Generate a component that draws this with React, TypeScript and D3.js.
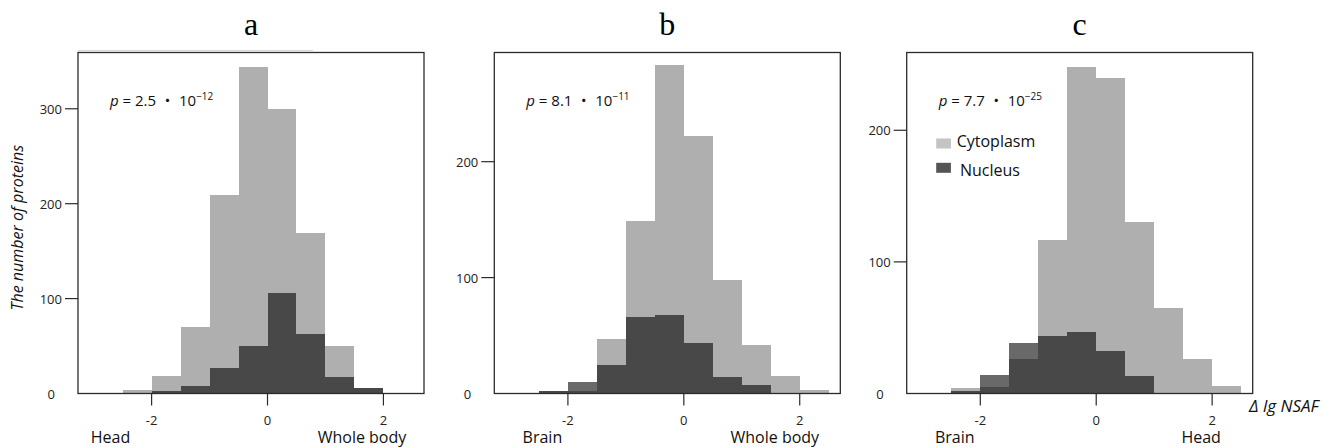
import React from 'react'
import * as d3 from 'd3'

// histogram bins (Δ lg NSAF)
const binEdges = [-2.5, -2, -1.5, -1, -0.5, 0, 0.5, 1, 1.5, 2, 2.5]

// panel a: head vs whole body
const cytoA = [4, 18, 70, 209, 344, 300, 169, 50, 6, 1]
const nucA = [0, 3, 8, 27, 50, 106, 63, 17, 6, 0]
// panel b: brain vs whole body
const cytoB = [2, 2, 47, 149, 283, 222, 98, 42, 15, 3]
const nucB = [2, 10, 25, 66, 68, 44, 14, 7, 0, 0]
// panel c: brain vs head
const cytoC = [4, 5, 26, 117, 248, 240, 130, 65, 26, 6]
const nucC = [2, 14, 38, 44, 47, 32, 13, 0, 0, 0]

const xTicks = [-2, 0, 2]
const yTicksA = [0, 100, 200, 300]
const yTicksB = [0, 100, 200]
const yTicksC = [0, 100, 200]

const titles = ['a', 'b', 'c']
const pMant = ['2.5', '8.1', '7.7']
const pExp = ['-12', '-11', '-25']
const leftLabels = ['Head', 'Brain', 'Brain']
const rightLabels = ['Whole body', 'Whole body', 'Head']
const leftLabelAt = [-2.71, -2.44, -2.44]
const rightLabelAt = [1.63, 1.57, 1.81]
const yMax = [359.3, 294.2, 259.1]

const legendNames = ['Cytoplasm', 'Nucleus']

const SANS = "'Open Sans', 'Noto Sans', sans-serif"
const FRAME = '#2b2b2b'
const LIGHT = '#afafaf'

const W = 346
const TOP = 52.5
const BOTTOM = 393.5

function Panel({ idx, left, cyto, nuc, yTicks, legend }) {
  const x = d3.scaleLinear().domain([-3.27, 2.7]).range([left, left + W])
  const y = d3.scaleLinear().domain([0, yMax[idx]]).range([BOTTOM, TOP])
  const bins = d3.range(binEdges.length - 1)

  return (
    <g>
      <text x={left + W / 2} y={35} textAnchor="middle"
        style={{ fontFamily: "'Liberation Serif', 'DejaVu Serif', serif", fontSize: 32 }}>
        {titles[idx]}
      </text>

      {bins.map(i => (
        <rect key={'c' + i} x={x(binEdges[i])} width={x(binEdges[i + 1]) - x(binEdges[i])}
          y={y(cyto[i])} height={y(0) - y(cyto[i])} fill={LIGHT} shapeRendering="crispEdges" />
      ))}
      {bins.filter(i => nuc[i] > 0).map(i => (
        <rect key={'n' + i} x={x(binEdges[i])} width={x(binEdges[i + 1]) - x(binEdges[i])}
          y={y(nuc[i])} height={y(0) - y(nuc[i])} fill="#000" fillOpacity={0.59}
          shapeRendering="crispEdges" />
      ))}

      <rect x={left} y={TOP} width={W} height={BOTTOM - TOP} fill="none"
        stroke={FRAME} strokeWidth={1.3} />

      {xTicks.map(t => (
        <g key={'xt' + t}>
          <line x1={x(t)} x2={x(t)} y1={BOTTOM} y2={BOTTOM + 12} stroke={FRAME} strokeWidth={1.2} />
          <text x={x(t)} y={424.5} textAnchor="middle" fill="#222"
            style={{ fontFamily: SANS, fontSize: 13 }}>{t}</text>
        </g>
      ))}

      {yTicks.map(t => (
        <g key={'yt' + t}>
          {t > 0 && <line x1={left - 13} x2={left} y1={y(t)} y2={y(t)} stroke={FRAME} strokeWidth={1.2} />}
          <text x={t > 0 ? left - 16 : left - 23} y={y(t) + 5} textAnchor="end" fill="#222"
            style={{ fontFamily: SANS, fontSize: 13 }}>{t}</text>
        </g>
      ))}

      <text x={x(leftLabelAt[idx])} y={443} textAnchor="middle" fill="#111"
        style={{ fontFamily: SANS, fontSize: 16 }}>{leftLabels[idx]}</text>
      <text x={x(rightLabelAt[idx])} y={443} textAnchor="middle" fill="#111"
        style={{ fontFamily: SANS, fontSize: 16 }}>{rightLabels[idx]}</text>

      <text x={left + 32} y={106} fill="#111" style={{ fontFamily: SANS, fontSize: 15 }}>
        <tspan fontStyle="italic">p</tspan>
        <tspan>{' = ' + pMant[idx] + ' '}</tspan>
        <tspan style={{ fontFamily: "'Noto Sans CJK JP', sans-serif" }}>・</tspan>
        <tspan>{' 10'}</tspan>
        <tspan fontSize={10} dy={-6}>{'\u2212' + pExp[idx].slice(1)}</tspan>
      </text>

      {legend && (
        <g>
          <rect x={left + 29.5} y={TOP + 86} width={14.7} height={10} fill="#c4c4c4" />
          <rect x={left + 29.5} y={TOP + 110.3} width={14.7} height={10} fill="#555" />
          <text x={left + 50} y={TOP + 94.3} fill="#111" style={{ fontFamily: SANS, fontSize: 16 }}>{legendNames[0]}</text>
          <text x={left + 53.3} y={TOP + 123.2} fill="#111" style={{ fontFamily: SANS, fontSize: 16 }}>{legendNames[1]}</text>
        </g>
      )}
    </g>
  )
}

export default function App() {
  return (
    <div style={{ position: 'absolute', left: 0, top: 0 }}>
      <svg width={1325} height={447} style={{ display: 'block', background: '#fff' }}>
        {/* faint line above panel a, as in the original figure */}
        <line x1={78} x2={313} y1={50.5} y2={50.5} stroke="#d8d8d8" strokeWidth={1} />

        <Panel idx={0} left={78} cyto={cytoA} nuc={nucA} yTicks={yTicksA} legend={false} />
        <Panel idx={1} left={494.3} cyto={cytoB} nuc={nucB} yTicks={yTicksB} legend={false} />
        <Panel idx={2} left={906.7} cyto={cytoC} nuc={nucC} yTicks={yTicksC} legend={true} />

        <text transform="translate(23,227.7) rotate(-90)" textAnchor="middle" fill="#111"
          style={{ fontFamily: SANS, fontSize: 16, fontStyle: 'italic' }}>
          The number of proteins
        </text>
        <text x={1249} y={411.7} fill="#111"
          style={{ fontFamily: SANS, fontSize: 17, fontStyle: 'italic' }}>
          Δ lg NSAF
        </text>
      </svg>
    </div>
  )
}
